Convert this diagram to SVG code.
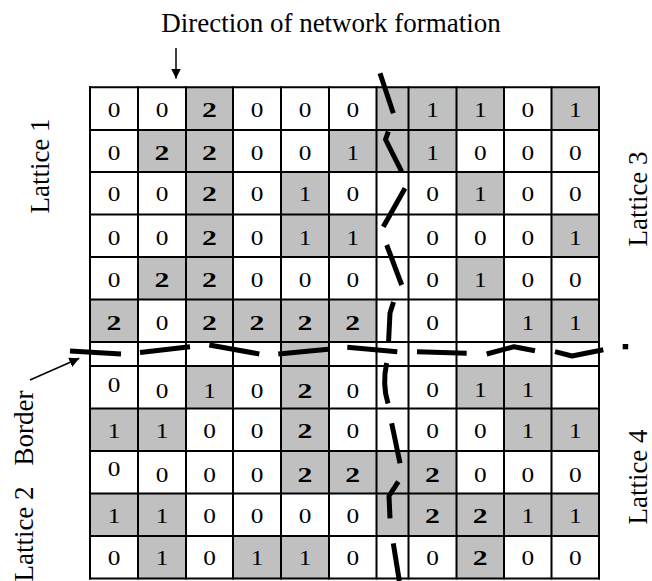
<svg xmlns="http://www.w3.org/2000/svg" width="652" height="581" viewBox="0 0 652 581">
<defs>
<style>
.g{fill:#c0c0c0}
.grid line{stroke:#000;stroke-width:2}
.n{font-family:"Liberation Serif","Times New Roman",serif;font-size:22px;text-anchor:middle;fill:#000;transform-box:fill-box;transform-origin:center;transform:scaleX(1.15)}
.b{font-weight:bold;font-size:22px;transform:scaleX(1.35)}
.lbl{font-family:"Liberation Serif","Times New Roman",serif;font-size:27px;text-anchor:middle;fill:#000}
.dash{stroke:#000;stroke-width:5;fill:none;stroke-linecap:butt;stroke-linejoin:round}
.arr{stroke:#000;stroke-width:1.5;fill:none}
</style>
<marker id="ah" viewBox="0 0 10 10" refX="10" refY="5" markerWidth="10" markerHeight="10" markerUnits="userSpaceOnUse" orient="auto">
<path d="M0,0 L10,5 L0,10 z" fill="#000"/>
</marker>
</defs>
<rect width="652" height="581" fill="#fff"/>

<text class="lbl" x="331" y="32" font-size="26">Direction of network formation</text>
<text class="lbl" transform="translate(49,166) rotate(-90)">Lattice 1</text>
<text class="lbl" transform="translate(33,534) rotate(-90)">Lattice 2</text>
<text class="lbl" transform="translate(33,428) rotate(-90)">Border</text>
<text class="lbl" transform="translate(647,199) rotate(-90)">Lattice 3</text>
<text class="lbl" transform="translate(647,477) rotate(-90)">Lattice 4</text>

<g id="lattice1">
<rect class="g" x="186" y="87.3" width="47" height="42.7"/>
<rect class="g" x="138" y="130" width="48" height="42"/>
<rect class="g" x="186" y="130" width="47" height="42"/>
<rect class="g" x="329" y="130" width="47.5" height="42"/>
<rect class="g" x="186" y="172" width="47" height="42.5"/>
<rect class="g" x="281" y="172" width="48" height="42.5"/>
<rect class="g" x="186" y="214.5" width="47" height="42.5"/>
<rect class="g" x="281" y="214.5" width="48" height="42.5"/>
<rect class="g" x="329" y="214.5" width="47.5" height="42.5"/>
<rect class="g" x="138" y="257" width="48" height="42.5"/>
<rect class="g" x="186" y="257" width="47" height="42.5"/>
<rect class="g" x="90" y="299.5" width="48" height="42.5"/>
<rect class="g" x="186" y="299.5" width="47" height="42.5"/>
<rect class="g" x="233" y="299.5" width="48" height="42.5"/>
<rect class="g" x="281" y="299.5" width="48" height="42.5"/>
<rect class="g" x="329" y="299.5" width="47.5" height="42.5"/>
<text class="n" x="114" y="117">0</text><text class="n" x="162" y="117">0</text><text class="n b" x="209.5" y="117">2</text><text class="n" x="257" y="117">0</text><text class="n" x="305" y="117">0</text><text class="n" x="352.75" y="117">0</text>
<text class="n" x="114" y="160">0</text><text class="n b" x="162" y="160">2</text><text class="n b" x="209.5" y="160">2</text><text class="n" x="257" y="160">0</text><text class="n" x="305" y="160">0</text><text class="n" x="352.75" y="160">1</text>
<text class="n" x="114" y="201.5">0</text><text class="n" x="162" y="201.5">0</text><text class="n b" x="209.5" y="201.5">2</text><text class="n" x="257" y="201.5">0</text><text class="n" x="305" y="201.5">1</text><text class="n" x="352.75" y="201.5">0</text>
<text class="n" x="114" y="245">0</text><text class="n" x="162" y="245">0</text><text class="n b" x="209.5" y="245">2</text><text class="n" x="257" y="245">0</text><text class="n" x="305" y="245">1</text><text class="n" x="352.75" y="245">1</text>
<text class="n" x="114" y="287">0</text><text class="n b" x="162" y="287">2</text><text class="n b" x="209.5" y="287">2</text><text class="n" x="257" y="287">0</text><text class="n" x="305" y="287">0</text><text class="n" x="352.75" y="287">0</text>
<text class="n b" x="114" y="330">2</text><text class="n" x="162" y="330">0</text><text class="n b" x="209.5" y="330">2</text><text class="n b" x="257" y="330">2</text><text class="n b" x="305" y="330">2</text><text class="n b" x="352.75" y="330">2</text>
</g>

<g id="lattice3">
<rect class="g" x="376.5" y="87.3" width="32" height="42.7"/>
<rect class="g" x="408.5" y="87.3" width="48" height="42.7"/>
<rect class="g" x="456.5" y="87.3" width="47.5" height="42.7"/>
<rect class="g" x="551.5" y="87.3" width="47.5" height="42.7"/>
<rect class="g" x="376.5" y="130" width="32" height="42"/>
<rect class="g" x="408.5" y="130" width="48" height="42"/>
<rect class="g" x="456.5" y="172" width="47.5" height="42.5"/>
<rect class="g" x="551.5" y="214.5" width="47.5" height="42.5"/>
<rect class="g" x="456.5" y="257" width="47.5" height="42.5"/>
<rect class="g" x="504" y="299.5" width="47.5" height="42.5"/>
<rect class="g" x="551.5" y="299.5" width="47.5" height="42.5"/>
<text class="n" x="432.5" y="117">1</text><text class="n" x="480.25" y="117">1</text><text class="n" x="527.75" y="117">0</text><text class="n" x="575.25" y="117">1</text>
<text class="n" x="432.5" y="160">1</text><text class="n" x="480.25" y="160">0</text><text class="n" x="527.75" y="160">0</text><text class="n" x="575.25" y="160">0</text>
<text class="n" x="432.5" y="201.5">0</text><text class="n" x="480.25" y="201.5">1</text><text class="n" x="527.75" y="201.5">0</text><text class="n" x="575.25" y="201.5">0</text>
<text class="n" x="432.5" y="245">0</text><text class="n" x="480.25" y="245">0</text><text class="n" x="527.75" y="245">0</text><text class="n" x="575.25" y="245">1</text>
<text class="n" x="432.5" y="287">0</text><text class="n" x="480.25" y="287">1</text><text class="n" x="527.75" y="287">0</text><text class="n" x="575.25" y="287">0</text>
<text class="n" x="432.5" y="330">0</text><text class="n" x="527.75" y="330">1</text><text class="n" x="575.25" y="330">1</text>
</g>

<g id="border-row">
<rect class="g" x="281" y="342" width="48" height="24"/>
</g>

<g id="lattice2">
<rect class="g" x="186" y="366" width="47" height="42.5"/>
<rect class="g" x="281" y="366" width="48" height="42.5"/>
<rect class="g" x="90" y="408.5" width="48" height="42.5"/>
<rect class="g" x="138" y="408.5" width="48" height="42.5"/>
<rect class="g" x="281" y="408.5" width="48" height="42.5"/>
<rect class="g" x="281" y="451" width="48" height="42.5"/>
<rect class="g" x="329" y="451" width="47.5" height="42.5"/>
<rect class="g" x="90" y="493.5" width="48" height="42.5"/>
<rect class="g" x="138" y="493.5" width="48" height="42.5"/>
<rect class="g" x="138" y="536" width="48" height="42.5"/>
<rect class="g" x="233" y="536" width="48" height="42.5"/>
<rect class="g" x="281" y="536" width="48" height="42.5"/>
<text class="n" x="114" y="392">0</text><text class="n" x="162" y="398">0</text><text class="n" x="209.5" y="398">1</text><text class="n" x="257" y="398">0</text><text class="n b" x="305" y="398">2</text><text class="n" x="352.75" y="398">0</text>
<text class="n" x="114" y="438.5">1</text><text class="n" x="162" y="438.5">1</text><text class="n" x="209.5" y="438.5">0</text><text class="n" x="257" y="438.5">0</text><text class="n b" x="305" y="438.5">2</text><text class="n" x="352.75" y="438.5">0</text>
<text class="n" x="114" y="476.5">0</text><text class="n" x="162" y="482">0</text><text class="n" x="209.5" y="482">0</text><text class="n" x="257" y="482">0</text><text class="n b" x="305" y="482">2</text><text class="n b" x="352.75" y="482">2</text>
<text class="n" x="114" y="523">1</text><text class="n" x="162" y="523">1</text><text class="n" x="209.5" y="523">0</text><text class="n" x="257" y="523">0</text><text class="n" x="305" y="523">0</text><text class="n" x="352.75" y="523">0</text>
<text class="n" x="114" y="565">0</text><text class="n" x="162" y="565">1</text><text class="n" x="209.5" y="565">0</text><text class="n" x="257" y="565">1</text><text class="n" x="305" y="565">1</text><text class="n" x="352.75" y="565">0</text>
</g>

<g id="lattice4">
<rect class="g" x="456.5" y="366" width="47.5" height="42.5"/>
<rect class="g" x="504" y="366" width="47.5" height="42.5"/>
<rect class="g" x="504" y="408.5" width="47.5" height="42.5"/>
<rect class="g" x="551.5" y="408.5" width="47.5" height="42.5"/>
<rect class="g" x="376.5" y="451" width="32" height="42.5"/>
<rect class="g" x="408.5" y="451" width="48" height="42.5"/>
<rect class="g" x="376.5" y="493.5" width="32" height="42.5"/>
<rect class="g" x="408.5" y="493.5" width="48" height="42.5"/>
<rect class="g" x="456.5" y="493.5" width="47.5" height="42.5"/>
<rect class="g" x="504" y="493.5" width="47.5" height="42.5"/>
<rect class="g" x="551.5" y="493.5" width="47.5" height="42.5"/>
<rect class="g" x="456.5" y="536" width="47.5" height="42.5"/>
<text class="n" x="432.5" y="397">0</text><text class="n" x="480.25" y="397">1</text><text class="n" x="527.75" y="397">1</text>
<text class="n" x="432.5" y="438.5">0</text><text class="n" x="480.25" y="438.5">0</text><text class="n" x="527.75" y="438.5">1</text><text class="n" x="575.25" y="438.5">1</text>
<text class="n b" x="432.5" y="482">2</text><text class="n" x="480.25" y="482">0</text><text class="n" x="527.75" y="482">0</text><text class="n" x="575.25" y="482">0</text>
<text class="n b" x="432.5" y="523">2</text><text class="n b" x="480.25" y="523">2</text><text class="n" x="527.75" y="523">1</text><text class="n" x="575.25" y="523">1</text>
<text class="n" x="432.5" y="565">0</text><text class="n b" x="480.25" y="565">2</text><text class="n" x="527.75" y="565">0</text><text class="n" x="575.25" y="565">0</text>
</g>

<g class="grid" id="grid">
<line x1="90" y1="86.3" x2="90" y2="579.5"/>
<line x1="138" y1="86.3" x2="138" y2="579.5"/>
<line x1="186" y1="86.3" x2="186" y2="579.5"/>
<line x1="233" y1="86.3" x2="233" y2="579.5"/>
<line x1="281" y1="86.3" x2="281" y2="579.5"/>
<line x1="329" y1="86.3" x2="329" y2="579.5"/>
<line x1="376.5" y1="86.3" x2="376.5" y2="579.5"/>
<line x1="408.5" y1="86.3" x2="408.5" y2="579.5"/>
<line x1="456.5" y1="86.3" x2="456.5" y2="579.5"/>
<line x1="504" y1="86.3" x2="504" y2="579.5"/>
<line x1="551.5" y1="86.3" x2="551.5" y2="579.5"/>
<line x1="599" y1="86.3" x2="599" y2="579.5"/>
<line x1="89" y1="87.3" x2="600" y2="87.3"/>
<line x1="89" y1="130" x2="600" y2="130"/>
<line x1="89" y1="172" x2="600" y2="172"/>
<line x1="89" y1="214.5" x2="600" y2="214.5"/>
<line x1="89" y1="257" x2="600" y2="257"/>
<line x1="89" y1="299.5" x2="600" y2="299.5"/>
<line x1="89" y1="342" x2="600" y2="342"/>
<line x1="89" y1="366" x2="600" y2="366"/>
<line x1="89" y1="408.5" x2="600" y2="408.5"/>
<line x1="89" y1="451" x2="600" y2="451"/>
<line x1="89" y1="493.5" x2="600" y2="493.5"/>
<line x1="89" y1="536" x2="600" y2="536"/>
<line x1="89" y1="578.5" x2="600" y2="578.5"/>
</g>

<g id="connectors">
<line class="arr" x1="176" y1="48" x2="176" y2="78.5" marker-end="url(#ah)"/>
<line class="arr" x1="30" y1="380" x2="79.3" y2="358.3" marker-end="url(#ah)"/>
<path class="dash" d="M70,351 L121,354"/>
<path class="dash" d="M140,352.5 L190,346.7"/>
<path class="dash" d="M209.3,345 L259.3,354"/>
<path class="dash" d="M278.3,354 L328.3,349.3"/>
<path class="dash" d="M347.3,347.3 L397.3,351.7"/>
<path class="dash" d="M417,351.7 L466.7,353.3"/>
<path class="dash" d="M486.7,354 L514,346.7 L535,350.7"/>
<path class="dash" d="M555,351.7 L572,356 L603.3,349.8"/>
<rect x="622.7" y="344" width="5.5" height="5.3" fill="#000"/>
<path class="dash" d="M380,73.3 L393.3,113.3"/>
<path class="dash" d="M388.3,131.7 L385.5,139.5 L401.7,171.7"/>
<path class="dash" d="M405,188.3 L383.3,226.7"/>
<path class="dash" d="M386.7,245 L401.7,285"/>
<path class="dash" d="M393.5,302 L390,313 L388.5,343"/>
<path class="dash" d="M386.7,363 Q382,384 388,403.5"/>
<path class="dash" d="M391.7,423.3 L400,463.3"/>
<path class="dash" d="M398.3,481.7 L389,496 L390,518.3"/>
<path class="dash" d="M393.3,543.3 L399.3,581"/>
</g>
</svg>
